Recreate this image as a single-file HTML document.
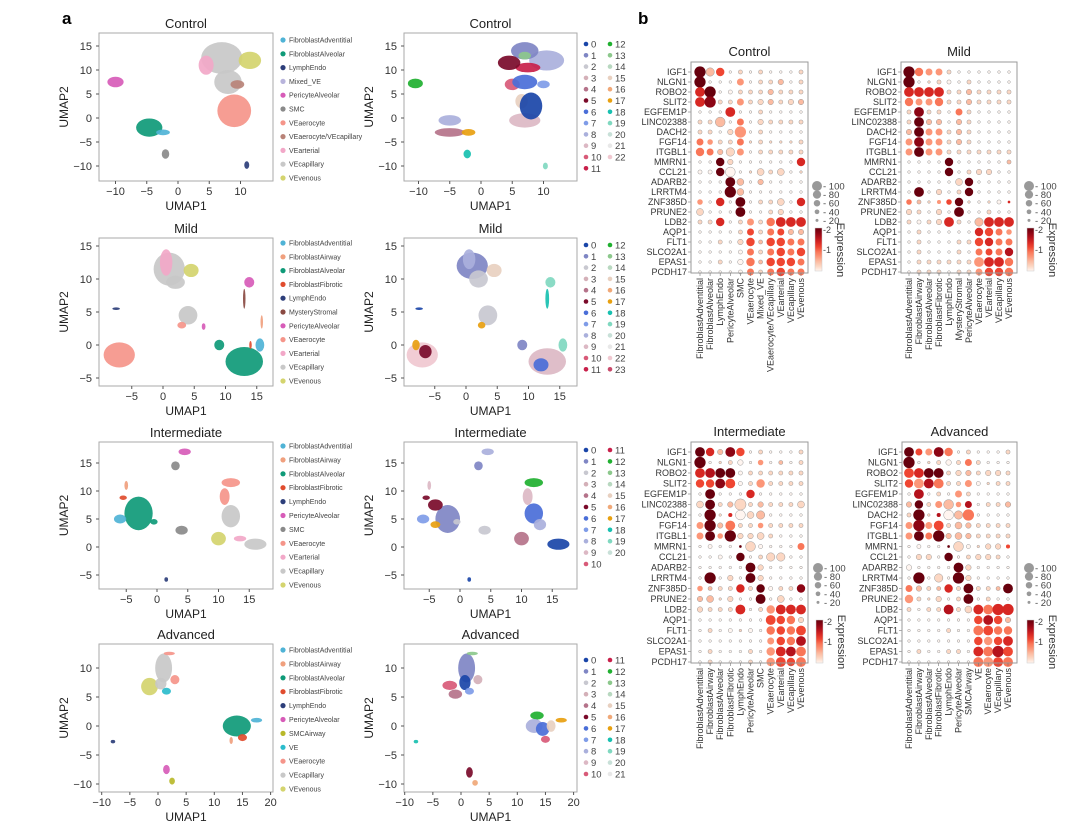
<!DOCTYPE html>
<html><head><meta charset="utf-8"><style>
html,body{margin:0;padding:0;background:#fff}
svg{display:block;font-family:"Liberation Sans",sans-serif}
</style></head><body>
<svg id="fig" width="1080" height="834" viewBox="0 0 1080 834" xmlns="http://www.w3.org/2000/svg">
<text x="62" y="24" font-size="17" font-weight="bold">a</text>
<text x="638" y="24" font-size="17" font-weight="bold">b</text>
</svg>
<script>
const NS='http://www.w3.org/2000/svg';
const svg=document.getElementById('fig');
function mk(tag,attrs,parent,txt){const e=document.createElementNS(NS,tag);for(const k in attrs)e.setAttribute(k,attrs[k]);if(txt!==undefined)e.textContent=txt;(parent||svg).appendChild(e);return e;}

// ---------- UMAP data ----------
const typeColors={FibroblastAdventitial:'#4fb3d6',FibroblastAirway:'#f0a07e',FibroblastAlveolar:'#0f9a78',FibroblastFibrotic:'#e04c2e',LymphEndo:'#2d3e7a',Mixed_VE:'#b8b4dc',MysteryStromal:'#8a4a42',PericyteAlveolar:'#d75cb8',SMC:'#8a8a8a',SMCAirway:'#b8b82a',VE:'#2bbccc',VEaerocyte:'#f5958a','VEaerocyte/VEcapillary':'#b98378',VEarterial:'#f2a8c8',VEcapillary:'#c8c8c8',VEvenous:'#d4d46e'};
const clusterColors=['#1a45a8','#7f86c4','#c8c8d0','#d4b0b8','#b5738a','#7a0a2a','#4a6ed8','#7f9ce8','#aab0dc','#dcb8c4','#d85a78','#c8204a','#20b030','#8cc88c','#b8d8c0','#e8d0c0','#f0a878','#e8a010','#18c0b0','#80d8c0','#c8e0d8','#e8e8e8','#f0c8d0','#c84a6a'];

const legendControl=['FibroblastAdventitial','FibroblastAlveolar','LymphEndo','Mixed_VE','PericyteAlveolar','SMC','VEaerocyte','VEaerocyte/VEcapillary','VEarterial','VEcapillary','VEvenous'];
const legendMild=['FibroblastAdventitial','FibroblastAirway','FibroblastAlveolar','FibroblastFibrotic','LymphEndo','MysteryStromal','PericyteAlveolar','VEaerocyte','VEarterial','VEcapillary','VEvenous'];
const legendInter=['FibroblastAdventitial','FibroblastAirway','FibroblastAlveolar','FibroblastFibrotic','LymphEndo','PericyteAlveolar','SMC','VEaerocyte','VEarterial','VEcapillary','VEvenous'];
const legendAdv=['FibroblastAdventitial','FibroblastAirway','FibroblastAlveolar','FibroblastFibrotic','LymphEndo','PericyteAlveolar','SMCAirway','VE','VEaerocyte','VEcapillary','VEvenous'];

// clusters: [x, y, rx, ry, type or cluster index] in UMAP units
const ctrlTypeClusters=[[-10,7.5,1.3,1.1,'PericyteAlveolar'],[-4.6,-2,2.1,1.9,'FibroblastAlveolar'],[-2.4,-3,1.1,0.6,'FibroblastAdventitial'],[-2,-7.5,0.6,1,'SMC'],[11,-9.8,0.4,0.8,'LymphEndo'],[7,12.5,3.3,3.3,'VEcapillary'],[8,7.5,2.2,2.5,'VEcapillary'],[4.5,11,1.2,2,'VEarterial'],[11.5,12,1.8,1.8,'VEvenous'],[9.5,7,1.1,0.9,'VEaerocyte/VEcapillary'],[9,1.5,2.7,3.4,'VEaerocyte']];
const ctrlNumClusters=[[-10.5,7.2,1.2,1,12],[-5,-0.5,1.8,1.1,8],[-5,-3,2.4,0.9,4],[-2,-3,1.1,0.7,17],[-2.2,-7.5,0.6,0.9,18],[10.3,-10,0.4,0.7,19],[7,-0.5,2.5,1.5,9],[6.5,3.5,1,1.5,15],[8,2.5,1.8,2.8,0],[5,7,1.2,1.2,10],[7,7.5,2,1.5,6],[10.5,12,2.8,2.1,8],[7,14,2.2,1.8,1],[7.5,10.5,2,1,11],[7,13,1,0.8,13],[4.5,11.5,1.8,1.5,5],[10,7,1,0.8,7]];
const mildTypeClusters=[[1,11.5,2.5,2.5,'VEcapillary'],[2,9.5,1.5,1,'VEcapillary'],[0.5,12.5,1,2,'VEarterial'],[4.5,11.3,1.2,1,'VEvenous'],[-7.5,5.5,0.6,0.2,'LymphEndo'],[-7,-1.5,2.5,1.9,'VEaerocyte'],[4,4.5,1.5,1.4,'VEcapillary'],[3,3,0.7,0.5,'VEaerocyte'],[6.5,2.8,0.3,0.5,'PericyteAlveolar'],[13.8,9.5,0.8,0.8,'PericyteAlveolar'],[13,7,0.2,1.5,'MysteryStromal'],[9,0,0.8,0.8,'FibroblastAlveolar'],[13,-2.5,3,2.2,'FibroblastAlveolar'],[14,0,0.2,0.6,'FibroblastFibrotic'],[15.5,0,0.7,1,'FibroblastAdventitial'],[15.8,3.5,0.2,1,'FibroblastAirway']];
const mildNumClusters=[[1,12,2.5,2,1],[2,10,1.5,1.3,2],[0.5,13,1,1.5,8],[4.5,11.3,1.2,1,15],[-7.5,5.5,0.6,0.2,0],[-7,-1.5,2.5,1.9,22],[-6.5,-1,1,1,5],[-8,0,0.6,0.8,17],[3.5,4.5,1.5,1.5,2],[2.5,3,0.6,0.5,17],[13.5,9.5,0.8,0.8,19],[13,7,0.3,1.5,18],[9,0,0.8,0.8,1],[13,-2.5,3,2,9],[12,-3,1.2,1,6],[15.5,0,0.7,1,19]];
const interTypeClusters=[[4.5,17,1,0.6,'PericyteAlveolar'],[3,14.5,0.7,0.8,'SMC'],[-5,11,0.3,0.8,'FibroblastAirway'],[-5.5,8.8,0.6,0.4,'FibroblastFibrotic'],[-3,6,2.3,3,'FibroblastAlveolar'],[-6,5,1,0.8,'FibroblastAdventitial'],[-0.5,4.5,0.6,0.5,'FibroblastAlveolar'],[4,3,1,0.8,'SMC'],[1.5,-5.8,0.3,0.4,'LymphEndo'],[10,1.5,1.2,1.2,'VEvenous'],[12,11.5,1.5,0.8,'VEaerocyte'],[11,9,0.8,1.5,'VEaerocyte'],[12,5.5,1.5,2,'VEcapillary'],[13.5,1.5,1,0.5,'VEarterial'],[16,0.5,1.8,1,'VEcapillary']];
const interNumClusters=[[4.5,17,1,0.6,8],[3,14.5,0.7,0.8,1],[-5,11,0.3,0.8,9],[-5.5,8.8,0.6,0.4,5],[-2,5,2,2.5,1],[-4,7.5,1.2,1,5],[-6,5,1,0.8,7],[-4,4,0.8,0.6,17],[-0.5,4.5,0.6,0.5,2],[4,3,1,0.8,2],[1.5,-5.8,0.3,0.4,0],[10,1.5,1.2,1.2,4],[12,11.5,1.5,0.8,12],[11,9,0.8,1.5,9],[12,6,1.5,1.8,6],[13,4,1,1,8],[16,0.5,1.8,1,0]];
const advTypeClusters=[[1,10,1.5,2.5,'VEcapillary'],[2,12.5,1,0.3,'VEaerocyte'],[3,8,0.8,0.8,'VEaerocyte'],[-1.5,6.8,1.5,1.5,'VEvenous'],[0.5,7.3,1,1,'VEcapillary'],[1.5,6,0.8,0.6,'VE'],[-8,-2.7,0.4,0.3,'LymphEndo'],[1.5,-7.5,0.6,0.8,'PericyteAlveolar'],[2.5,-9.5,0.5,0.6,'SMCAirway'],[14,0,2.5,1.8,'FibroblastAlveolar'],[17.5,1,1,0.4,'FibroblastAdventitial'],[15,-2,0.8,0.6,'FibroblastFibrotic'],[13,-2.5,0.3,0.6,'FibroblastAirway']];
const advNumClusters=[[1,10,1.5,2.5,1],[2,12.5,1,0.3,13],[3,8,0.8,0.8,3],[-2,7,1.3,0.8,10],[-1,5.5,1.2,0.8,4],[0.7,7.5,1,1.3,0],[1.5,6,0.8,0.6,7],[-8,-2.7,0.4,0.3,18],[1.5,-8,0.6,0.9,5],[2.5,-9.8,0.5,0.5,16],[13.5,1.8,1.2,0.7,12],[13,0,1.5,1.2,8],[14.5,-0.5,1.2,1.2,6],[15,-2.3,0.8,0.6,10],[17.8,1,1,0.4,17],[16,0,0.8,1,15]];

const xt1=[-10,-5,0,5,10], yt1=[-10,-5,0,5,10,15];
const xt2=[-5,0,5,10,15], yt2=[-5,0,5,10,15];
const xt4=[-10,-5,0,5,10,15,20], yt4=[-10,-5,0,5,10];

const umapRows=[
 {title:'Control',top:33,bot:181,cx:178,sx:6.25,cy:118,sy:4.8,xt:xt1,yt:yt1,types:ctrlTypeClusters,nums:ctrlNumClusters,legend:legendControl,nClust:23,split:12,legTop:40,legStep:13.8,numTop:44,numStep:11.3},
 {title:'Mild',top:238,bot:386,cx:163,sx:6.25,cy:345,sy:6.6,xt:xt2,yt:yt2,types:mildTypeClusters,nums:mildNumClusters,legend:legendMild,nClust:24,split:12,legTop:243,legStep:13.8,numTop:245,numStep:11.3},
 {title:'Intermediate',top:442,bot:589,cx:157,sx:6.15,cy:547,sy:5.6,xt:xt2,yt:yt2,types:interTypeClusters,nums:interNumClusters,legend:legendInter,nClust:21,split:11,legTop:446,legStep:13.9,numTop:450,numStep:11.4},
 {title:'Advanced',top:644,bot:792,cx:158,sx:5.63,cy:726,sy:5.8,xt:xt4,yt:yt4,types:advTypeClusters,nums:advNumClusters,legend:legendAdv,nClust:22,split:11,legTop:650,legStep:13.9,numTop:660,numStep:11.4}
];

function drawUmap(r,left,right,cxOff,clusters,isNum,tag){
  const g=mk('g',{});
  
  
  const X=v=>r.cx+cxOff+v*r.sx, Y=v=>r.cy-v*r.sy;
  const t=mk('text',{x:(left+right)/2,y:r.top-5,'font-size':13,'text-anchor':'middle',fill:'#222'},g,r.title);
  
  
  clusters.forEach(c=>{
    const col=isNum?clusterColors[c[4]]:typeColors[c[4]];
    const e=mk('ellipse',{cx:X(c[0]),cy:Y(c[1]),rx:c[2]*r.sx,ry:c[3]*r.sy,fill:col,'fill-opacity':0.92},g);
    
    
  });
  const fr=mk('rect',{x:left,y:r.top,width:right-left,height:r.bot-r.top,fill:'none',stroke:'#aaa','stroke-width':1},g);
  
  
  r.xt.forEach(v=>{
    mk('line',{x1:X(v),x2:X(v),y1:r.bot,y2:r.bot+3,stroke:'#555'},g);
    const tl=mk('text',{x:X(v),y:r.bot+14,'font-size':11,'text-anchor':'middle',fill:'#333'},g,String(v).replace('-','−'));
    
    
  });
  r.yt.forEach(v=>{
    mk('line',{x1:left-3,x2:left,y1:Y(v),y2:Y(v),stroke:'#555'},g);
    const tl=mk('text',{x:left-7,y:Y(v)+4,'font-size':11,'text-anchor':'end',fill:'#333'},g,String(v).replace('-','−'));
    
    
  });
  const xl=mk('text',{x:(left+right)/2,y:r.bot+29,'font-size':12,'text-anchor':'middle',fill:'#222'},g,'UMAP1');
  
  
  const yy=(r.top+r.bot)/2;
  const yl=mk('text',{x:left-31,y:yy,'font-size':12,'text-anchor':'middle',fill:'#222',transform:`rotate(-90 ${left-31} ${yy})`},g,'UMAP2');
  
  
  return g;
}

umapRows.forEach(r=>{
  const g1=drawUmap(r,99,273,0,r.types,false,r.title.toLowerCase()+'-celltype');
  r.legend.forEach((nm,i)=>{
    const y=r.legTop+i*r.legStep;
    const le=mk('g',{},g1);
    
    
    mk('circle',{cx:283,cy:y,r:2.6,fill:typeColors[nm]},le);
    mk('text',{x:289,y:y+2.5,'font-size':7,fill:'#444'},le,nm);
  });
  const g2=drawUmap(r,404,577,303,r.nums,true,r.title.toLowerCase()+'-cluster');
  for(let i=0;i<r.nClust;i++){
    const col=i<r.split?0:1, row=i<r.split?i:i-r.split;
    const x=586+col*24, y=r.numTop+row*r.numStep;
    const le=mk('g',{},g2);
    
    
    mk('circle',{cx:x,cy:y,r:2.3,fill:clusterColors[i]},le);
    mk('text',{x:x+5,y:y+3.5,'font-size':9.5,fill:'#444'},le,String(i));
  }
});

// ---------- Dot plot data ----------
const genes=['IGF1','NLGN1','ROBO2','SLIT2','EGFEM1P','LINC02388','DACH2','FGF14','ITGBL1','MMRN1','CCL21','ADARB2','LRRTM4','ZNF385D','PRUNE2','LDB2','AQP1','FLT1','SLCO2A1','EPAS1','PCDH17'];
const colsControl=['FibroblastAdventitial','FibroblastAlveolar','LymphEndo','PericyteAlveolar','SMC','VEaerocyte','Mixed_VE','VEaerocyte/VEcapillary','VEarterial','VEcapillary','VEvenous'];
const colsMild=['FibroblastAdventitial','FibroblastAirway','FibroblastAlveolar','FibroblastFibrotic','LymphEndo','MysteryStromal','PericyteAlveolar','VEaerocyte','VEarterial','VEcapillary','VEvenous'];
const colsInter=['FibroblastAdventitial','FibroblastAirway','FibroblastAlveolar','FibroblastFibrotic','LymphEndo','PericyteAlveolar','SMC','VEaerocyte','VEarterial','VEcapillary','VEvenous'];
const colsAdv=['FibroblastAdventitial','FibroblastAirway','FibroblastAlveolar','FibroblastFibrotic','LymphEndo','PericyteAlveolar','SMCAirway','VE','VEaerocyte','VEcapillary','VEvenous'];
// expression level (0-9 -> 0..2) per gene row, one digit per column
const exprControl=['92501010001','90003011201','69001112111','68113112112','00060010000','11204011111','11013010000','43114111111','44213011111','00910000006','00900111101','00092020000','00092000000','30609011106','10009001100','11601314666','00001514522','00101525544','00000414545','00100425554','00000414544'];
const sizeControl=['75512121112','71114122312','67122223222','67224233233','11161121111','22614132222','22137121111','43224121112','54354122222','11531111115','22561142411','11164131111','11174111111','31516122415','41116112311','22512425666','11112424433','11213525544','11112424545','11213525554','11112424544'];
const exprMild=['94331000000','90110010000','66661121111','43341121111','18110410000','19220210000','29331210000','38331210000','39331111111','00009000002','00009011100','00000190000','09010190000','42135910106','11010900100','10116102666','01000006543','01000115644','01000104547','01111113664','01110113554'];
const sizeMild=['75442111111','71122121111','66662232222','54452232222','26221421111','26331321111','36442321111','46442321111','46442222222','11115111112','11115123311','11111451111','16131251111','32123511121','32131611211','22236215666','12111115543','12111225544','12111214445','12222226665','12221224555'];
const exprInter=['96285010001','90110030201','67990111111','55850131111','09000600000','19121121111','09160120000','39241131111','39391111000','00009100004','00009011100','00000910000','09010910000','32116190118','22110090100','11116013666','00000005541','01001004545','00000003547','01000103674','01000103554'];
const sizeInter=['65365121112','71123131212','66662222222','55662252222','16111511111','46237232224','17126451111','47362232222','46373342111','12111621114','11215125511','11111631111','17131631111','32225252225','34131161411','32226125666','11111116553','12121215556','11111114556','12111215666','12111215656'];
const exprAdv=['95384010001','90110141000','56991121111','53741130111','07010310000','29132370112','19170240000','38351221111','39492221111','00009101115','01109011110','00000910000','09010910000','42126191129','31110190100','10117116466','00000005752','00001004544','00000005356','01001106475','00000004354'];
const sizeAdv=['64465121112','71123242111','66662332332','56662242122','16121421111','35246341223','27126571111','47462432222','46473432222','12111621332','13315123321','31111631111','17151731111','43225262226','52131261211','21226246677','11111115653','11112116655','11111115556','12112216676','11111116666'];

const dotPlots=[
 {title:'Control',cols:colsControl,expr:exprControl,size:sizeControl,left:691,right:808,top:62,bot:273,c0:700,r0:72,legX:815,legY:186,cbY:228},
 {title:'Mild',cols:colsMild,expr:exprMild,size:sizeMild,left:901,right:1017,top:62,bot:273,c0:909,r0:72,legX:1027,legY:186,cbY:228},
 {title:'Intermediate',cols:colsInter,expr:exprInter,size:sizeInter,left:691,right:808,top:442,bot:663,c0:700,r0:452,legX:816,legY:568,cbY:620},
 {title:'Advanced',cols:colsAdv,expr:exprAdv,size:sizeAdv,left:902,right:1017,top:442,bot:663,c0:909,r0:452,legX:1027,legY:568,cbY:620}
];
const reds=[[255,245,240],[252,215,195],[252,187,161],[252,150,120],[249,118,88],[239,70,50],[215,40,35],[180,18,28],[140,5,20],[103,0,13]];
function redCol(l){const c=reds[Math.max(0,Math.min(9,l))];return `rgb(${c[0]},${c[1]},${c[2]})`;}

dotPlots.forEach((p,pi)=>{
  const g=mk('g',{});
  
  
  const dx=(p.right-p.left-16)/10, dy=(p.bot-p.top-11)/20;
  const t=mk('text',{x:(p.left+p.right)/2,y:p.top-6,'font-size':13,'text-anchor':'middle',fill:'#222'},g,p.title);
  
  
  genes.forEach((gn,ri)=>{
    const y=p.r0+ri*dy;
    const gl=mk('text',{x:p.left-4,y:y+3,'font-size':9,'text-anchor':'end',fill:'#333'},g,gn);
    
    
    mk('line',{x1:p.left-3,x2:p.left,y1:y,y2:y,stroke:'#777','stroke-width':0.6},g);
    for(let ci=0;ci<11;ci++){
      const e=+p.expr[ri][ci], s=+p.size[ri][ci];
      const d=mk('circle',{cx:p.c0+ci*dx,cy:y,r:0.6+s*0.72,fill:redCol(e),stroke:e<3?'#9a9a9a':'none','stroke-width':0.5},g);
      
      
    }
  });
  const fr=mk('rect',{x:p.left,y:p.top,width:p.right-p.left,height:p.bot-p.top,fill:'none',stroke:'#999','stroke-width':1},g);
  
  
  p.cols.forEach((c,ci)=>{
    const x=p.c0+ci*dx+3, y=p.bot+5;
    mk('line',{x1:x-3,x2:x-3,y1:p.bot,y2:p.bot+3,stroke:'#777','stroke-width':0.6},g);
    const cl=mk('text',{x:x,y:y,'font-size':9,'text-anchor':'end',fill:'#333',transform:`rotate(-90 ${x} ${y})`},g,c);
    
    
  });
  // size legend
  const sl=mk('g',{},g);
  
  
  [100,80,60,40,20].forEach((v,i)=>{
    const y=p.legY+i*8.6;
    mk('circle',{cx:p.legX+2,cy:y,r:0.6+v/100*4.4,fill:'#999'},sl);
    mk('text',{x:p.legX+8,y:y+3.5,'font-size':9.5,fill:'#444'},sl,'- '+v);
  });
  // colorbar
  const cb=mk('g',{},g);
  
  
  const gid='grad'+pi;
  const defs=mk('defs',{},cb);
  const lg=mk('linearGradient',{id:gid,x1:0,y1:1,x2:0,y2:0},defs);
  reds.forEach((c,i)=>mk('stop',{offset:(i/9),'stop-color':redCol(i)},lg));
  mk('rect',{x:p.legX,y:p.cbY,width:7,height:43,fill:`url(#${gid})`,stroke:'#ccc','stroke-width':0.5},cb);
  mk('text',{x:p.legX+8,y:p.cbY+5,'font-size':9,fill:'#444'},cb,'-2');
  mk('text',{x:p.legX+8,y:p.cbY+25,'font-size':9,fill:'#444'},cb,'-1');
  const ex=p.legX+22, ey=p.cbY+22;
  mk('text',{x:ex,y:ey,'font-size':11,'text-anchor':'middle',fill:'#333',transform:`rotate(90 ${ex} ${ey})`},cb,'Expression');
});
</script>
</body></html>
